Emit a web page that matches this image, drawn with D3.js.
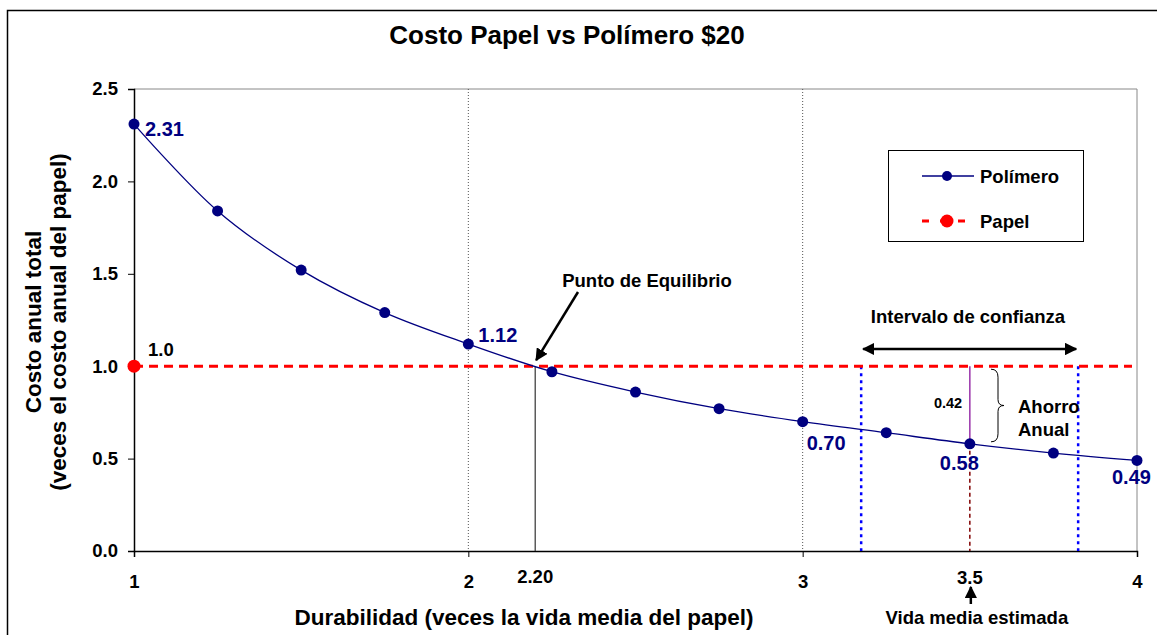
<!DOCTYPE html>
<html><head><meta charset="utf-8">
<script src="https://cdn.jsdelivr.net/npm/d3@7"></script>
<style>
body{margin:0;background:#fff;}
text{font-family:"Liberation Sans",Arial,sans-serif;font-weight:bold;}
</style></head>
<body>
<svg id="c" width="1157" height="635"></svg>
<script>
const durability = [1, 1.25, 1.5, 1.75, 2, 2.25, 2.5, 2.75, 3, 3.25, 3.5, 3.75, 4];
const polymerCost = [2.31, 1.84, 1.52, 1.29, 1.12, 0.97, 0.86, 0.77, 0.70, 0.64, 0.58, 0.53, 0.49];
const paperCost = 1.0;
const breakEven = 2.20;
const lifeEstimate = 3.5;
const confInterval = [3.175, 3.824];
const saving = 0.42;
const yTicks = [0, 0.5, 1.0, 1.5, 2.0, 2.5];
const xTicks = [1, 2, 3, 4];
const labeled = [
  {x:1, v:"2.31", dx:11, dy:12},
  {x:2, v:"1.12", dx:10, dy:-2},
  {x:3, v:"0.70", dx:4, dy:28},
  {x:3.5, v:"0.58", dx:-30, dy:26},
  {x:4, v:"0.49", dx:-25, dy:24}
];

const svg = d3.select("#c");
const x = d3.scaleLinear().domain([1,4]).range([134,1137]);
const y = d3.scaleLinear().domain([0,2.5]).range([551,89]);
const navy = "#000080";
const FS = 18.5;

svg.append("defs").html(`
<marker id="ah" viewBox="0 0 10 10" refX="9" refY="5" markerWidth="5" markerHeight="5" orient="auto-start-reverse"><path d="M0,0L10,5L0,10z" fill="#000"/></marker>`);

// outer frame
svg.append("rect").attr("x",7.5).attr("y",10.5).attr("width",1180).attr("height",700)
  .attr("fill","none").attr("stroke","#000").attr("stroke-width",1.5);

// title
svg.append("text").attr("x",567).attr("y",44).attr("text-anchor","middle")
  .attr("font-size",26).text("Costo Papel vs Polímero $20");

// plot border top/right
svg.append("path").attr("d",`M${x(1)},${y(2.5)}H${x(4)}V${y(0)}`)
  .attr("fill","none").attr("stroke","#888").attr("stroke-width",1);

// dotted gridlines
[2,3].forEach(v=>{
  svg.append("line").attr("x1",x(v)).attr("x2",x(v)).attr("y1",y(2.5)).attr("y2",y(0))
    .attr("stroke","#555").attr("stroke-width",1).attr("stroke-dasharray","1,2");
});

// axes
const yAxis = d3.axisLeft(y).tickValues(yTicks).tickFormat(d3.format(".1f")).tickSize(6).tickPadding(10);
const gy = svg.append("g").attr("transform",`translate(${x(1)},0)`).call(yAxis);
gy.selectAll("text").attr("font-size",FS).attr("fill","#000").style("font-family","Liberation Sans, Arial").style("font-weight","bold");
gy.select(".domain").attr("stroke","#000").attr("stroke-width",1.5);

const xAxis = d3.axisBottom(x).tickValues(xTicks).tickFormat(d3.format("d")).tickSize(6).tickPadding(18);
const gx = svg.append("g").attr("transform",`translate(0,${y(0)})`).call(xAxis);
gx.selectAll("text").attr("font-size",FS).attr("fill","#000").style("font-family","Liberation Sans, Arial").style("font-weight","bold");
gx.select(".domain").attr("stroke","#000").attr("stroke-width",1.5);

// extra x labels
svg.append("text").attr("x",x(breakEven)).attr("y",583).attr("text-anchor","middle").attr("font-size",FS).text("2.20");
svg.append("text").attr("x",x(lifeEstimate)).attr("y",584).attr("text-anchor","middle").attr("font-size",FS).text("3.5");
svg.append("line").attr("x1",x(lifeEstimate)+1).attr("x2",x(lifeEstimate)+1).attr("y1",604).attr("y2",587)
  .attr("stroke","#000").attr("stroke-width",2.5).attr("marker-end","url(#ah)");
svg.append("text").attr("x",x(lifeEstimate)+7).attr("y",624).attr("text-anchor","middle").attr("font-size",FS).text("Vida media estimada");

// axis titles
svg.append("text").attr("x",524).attr("y",625).attr("text-anchor","middle").attr("font-size",22.5).text("Durabilidad (veces la vida media del papel)");
const yt = svg.append("text").attr("transform","translate(0,322) rotate(-90)").attr("text-anchor","middle").attr("font-size",22.5);
yt.append("tspan").attr("x",0).attr("y",41).text("Costo anual total");
yt.append("tspan").attr("x",0).attr("y",66).text("(veces el costo anual del papel)");

// break-even vertical line
svg.append("line").attr("x1",x(breakEven)).attr("x2",x(breakEven)).attr("y1",y(paperCost)).attr("y2",y(0))
  .attr("stroke","#333").attr("stroke-width",1.2);

// confidence interval lines
confInterval.forEach(v=>{
  svg.append("line").attr("x1",x(v)).attr("x2",x(v)).attr("y1",y(paperCost)).attr("y2",y(0))
    .attr("stroke","#0000ff").attr("stroke-width",2.5).attr("stroke-dasharray","3,4");
});

// dark red dashed at 3.5
svg.append("line").attr("x1",x(lifeEstimate)).attr("x2",x(lifeEstimate)).attr("y1",y(0.58)).attr("y2",y(0))
  .attr("stroke","#800000").attr("stroke-width",1.5).attr("stroke-dasharray","4,3");
// purple saving line
svg.append("line").attr("x1",x(lifeEstimate)).attr("x2",x(lifeEstimate)).attr("y1",y(paperCost)).attr("y2",y(paperCost-saving))
  .attr("stroke","#9933aa").attr("stroke-width",1.5);

// paper dashed line
svg.append("line").attr("x1",x(1)).attr("x2",x(4)-5).attr("y1",y(paperCost)).attr("y2",y(paperCost))
  .attr("stroke","#ff0000").attr("stroke-width",3).attr("stroke-dasharray","9,6");
svg.append("circle").attr("cx",x(1)).attr("cy",y(paperCost)).attr("r",6.5).attr("fill","#ff0000");
svg.append("text").attr("x",148).attr("y",356).attr("font-size",FS).text("1.0");

// polymer curve
const pts = durability.map((d,i)=>[d,polymerCost[i]]);
svg.append("path").datum(pts)
  .attr("d",d3.line().x(d=>x(d[0])).y(d=>y(d[1])).curve(d3.curveCatmullRom.alpha(0.5)))
  .attr("fill","none").attr("stroke",navy).attr("stroke-width",1.3);
svg.selectAll(".pt").data(pts).enter().append("circle")
  .attr("cx",d=>x(d[0])).attr("cy",d=>y(d[1])).attr("r",5.5).attr("fill",navy);

labeled.forEach(l=>{
  const i = durability.indexOf(l.x);
  svg.append("text").attr("x",x(l.x)+l.dx).attr("y",y(polymerCost[i])+l.dy)
    .attr("font-size",20).attr("fill",navy).text(l.v);
});

// Punto de Equilibrio
svg.append("text").attr("x",647).attr("y",287).attr("text-anchor","middle").attr("font-size",FS).text("Punto de Equilibrio");
svg.append("line").attr("x1",578).attr("y1",292).attr("x2",x(breakEven)+1).attr("y2",y(paperCost)-6)
  .attr("stroke","#000").attr("stroke-width",2.5).attr("marker-end","url(#ah)");

// Intervalo de confianza
svg.append("text").attr("x",968).attr("y",323).attr("text-anchor","middle").attr("font-size",FS).text("Intervalo de confianza");
svg.append("line").attr("x1",x(confInterval[0])+2).attr("x2",x(confInterval[1])-2).attr("y1",349).attr("y2",349)
  .attr("stroke","#000").attr("stroke-width",2.5)
  .attr("marker-start","url(#ah)").attr("marker-end","url(#ah)");

// saving annotation
svg.append("text").attr("x",948).attr("y",408).attr("text-anchor","middle").attr("font-size",14.5).text(saving.toFixed(2));
const bx = 991, by1 = y(paperCost)+3, by2 = y(paperCost-saving)-2, bm=(by1+by2)/2;
svg.append("path").attr("d",`M${bx},${by1} Q${bx+7},${by1} ${bx+7},${by1+8} L${bx+7},${bm-6} Q${bx+7},${bm} ${bx+13},${bm} Q${bx+7},${bm} ${bx+7},${bm+6} L${bx+7},${by2-8} Q${bx+7},${by2} ${bx},${by2}`)
  .attr("fill","none").attr("stroke","#000").attr("stroke-width",1);
svg.append("text").attr("x",1018).attr("y",413).attr("font-size",FS).text("Ahorro");
svg.append("text").attr("x",1018).attr("y",436).attr("font-size",FS).text("Anual");

// legend
const lg = svg.append("g");
lg.append("rect").attr("x",888.5).attr("y",150.5).attr("width",195).attr("height",91)
  .attr("fill","#fff").attr("stroke","#000").attr("stroke-width",1);
lg.append("line").attr("x1",922).attr("x2",974).attr("y1",176).attr("y2",176).attr("stroke",navy).attr("stroke-width",1.3);
lg.append("circle").attr("cx",947).attr("cy",176).attr("r",5).attr("fill",navy);
lg.append("text").attr("x",980).attr("y",183).attr("font-size",FS).text("Polímero");
lg.append("line").attr("x1",922).attr("x2",974).attr("y1",221).attr("y2",221).attr("stroke","#ff0000").attr("stroke-width",3).attr("stroke-dasharray","7,11");
lg.append("circle").attr("cx",947).attr("cy",221).attr("r",6.5).attr("fill","#ff0000");
lg.append("text").attr("x",980).attr("y",228).attr("font-size",FS).text("Papel");
</script>
</body></html>
